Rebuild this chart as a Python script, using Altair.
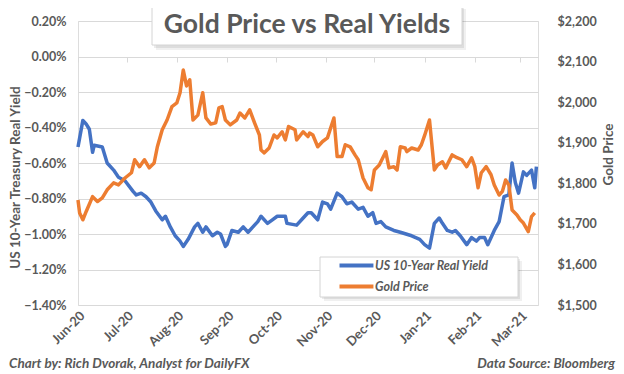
import altair as alt
import pandas as pd

# ---------------- data ----------------
blue_dates = [
    "2020-06-01", "2020-06-02", "2020-06-04", "2020-06-06", "2020-06-08", "2020-06-10", "2020-06-11",
    "2020-06-16", "2020-06-19", "2020-06-23", "2020-06-26", "2020-06-30", "2020-07-05", "2020-07-07",
    "2020-07-10", "2020-07-13", "2020-07-16", "2020-07-19", "2020-07-23", "2020-07-25", "2020-07-28",
    "2020-07-31", "2020-08-03", "2020-08-05", "2020-08-08", "2020-08-12", "2020-08-14", "2020-08-17",
    "2020-08-19", "2020-08-23", "2020-08-26", "2020-08-28", "2020-08-31", "2020-09-01", "2020-09-04",
    "2020-09-08", "2020-09-11", "2020-09-14", "2020-09-17", "2020-09-20", "2020-09-22", "2020-09-26",
    "2020-09-29", "2020-10-02", "2020-10-07", "2020-10-08", "2020-10-14", "2020-10-18", "2020-10-21",
    "2020-10-23", "2020-10-27", "2020-10-30", "2020-11-02", "2020-11-04", "2020-11-08", "2020-11-11",
    "2020-11-14", "2020-11-17", "2020-11-21", "2020-11-24", "2020-11-27", "2020-11-30", "2020-12-02",
    "2020-12-05", "2020-12-08", "2020-12-13", "2020-12-17", "2020-12-24", "2020-12-29", "2021-01-01",
    "2021-01-04", "2021-01-07", "2021-01-10", "2021-01-12", "2021-01-15", "2021-01-18", "2021-01-20",
    "2021-01-23", "2021-01-27", "2021-01-30", "2021-02-02", "2021-02-04", "2021-02-07", "2021-02-09",
    "2021-02-13", "2021-02-16", "2021-02-19", "2021-02-22", "2021-02-24", "2021-02-26", "2021-02-28",
    "2021-03-03", "2021-03-05", "2021-03-08", "2021-03-10", "2021-03-11",
]
blue_vals = [
    -0.51, -0.46, -0.36, -0.38, -0.41, -0.54, -0.50,
    -0.51, -0.60, -0.64, -0.68, -0.70, -0.76, -0.78,
    -0.77, -0.79, -0.82, -0.87, -0.92, -0.90, -0.96,
    -1.01, -1.04, -1.07, -1.03, -0.96, -0.94, -0.99,
    -0.96, -1.01, -0.99, -1.00, -1.07, -1.06, -0.98,
    -0.99, -0.96, -0.99, -0.96, -0.93, -0.90, -0.94,
    -0.92, -0.90, -0.90, -0.94, -0.95, -0.91, -0.88,
    -0.88, -0.92, -0.82, -0.83, -0.86, -0.77, -0.79,
    -0.83, -0.82, -0.86, -0.85, -0.90, -0.88, -0.94,
    -0.93, -0.96, -0.98, -0.99, -1.01, -1.03, -1.06,
    -1.08, -0.94, -0.91, -0.94, -0.98, -0.99, -0.98,
    -1.01, -1.06, -1.02, -1.04, -1.02, -1.02, -1.06,
    -0.98, -0.93, -0.79, -0.78, -0.60, -0.71, -0.77,
    -0.65, -0.67, -0.64, -0.74, -0.62,
]

gold_dates = [
    "2020-06-01", "2020-06-02", "2020-06-04", "2020-06-06", "2020-06-10", "2020-06-13", "2020-06-16",
    "2020-06-19", "2020-06-23", "2020-06-26", "2020-06-30", "2020-07-04", "2020-07-06", "2020-07-09",
    "2020-07-12", "2020-07-15", "2020-07-18", "2020-07-20", "2020-07-23", "2020-07-26", "2020-07-29",
    "2020-08-01", "2020-08-03", "2020-08-05", "2020-08-07", "2020-08-09", "2020-08-11", "2020-08-14",
    "2020-08-17", "2020-08-19", "2020-08-22", "2020-08-25", "2020-08-27", "2020-08-29", "2020-08-31",
    "2020-09-03", "2020-09-07", "2020-09-09", "2020-09-12", "2020-09-15", "2020-09-18", "2020-09-21",
    "2020-09-22", "2020-09-24", "2020-09-27", "2020-09-30", "2020-10-02", "2020-10-05", "2020-10-07",
    "2020-10-09", "2020-10-13", "2020-10-14", "2020-10-18", "2020-10-21", "2020-10-22", "2020-10-24",
    "2020-10-27", "2020-10-30", "2020-11-02", "2020-11-06", "2020-11-08", "2020-11-11", "2020-11-13",
    "2020-11-16", "2020-11-19", "2020-11-21", "2020-11-24", "2020-11-27", "2020-11-29", "2020-12-01",
    "2020-12-04", "2020-12-08", "2020-12-10", "2020-12-13", "2020-12-15", "2020-12-17", "2020-12-20",
    "2020-12-21", "2020-12-24", "2020-12-28", "2020-12-30", "2021-01-01", "2021-01-04", "2021-01-07",
    "2021-01-09", "2021-01-12", "2021-01-14", "2021-01-18", "2021-01-21", "2021-01-24", "2021-01-27",
    "2021-01-30", "2021-02-01", "2021-02-03", "2021-02-05", "2021-02-08", "2021-02-11", "2021-02-13",
    "2021-02-16", "2021-02-18", "2021-02-20", "2021-02-22", "2021-02-24", "2021-02-27", "2021-03-01",
    "2021-03-03", "2021-03-06", "2021-03-08", "2021-03-10",
]
gold_vals = [
    1759, 1727, 1710, 1730, 1767, 1755, 1764,
    1784, 1801, 1796, 1813, 1826, 1858, 1841,
    1858, 1838, 1850, 1890, 1932, 1956, 1989,
    1998, 2023, 2079, 2040, 2055, 1956, 1968,
    2023, 1961, 1946, 1949, 1986, 1989, 1956,
    1944, 1956, 1973, 1961, 1981, 1949, 1919,
    1882, 1875, 1887, 1919, 1912, 1927, 1907,
    1940, 1932, 1907, 1927, 1915, 1924, 1919,
    1890, 1903, 1912, 1961, 1866, 1866, 1895,
    1890, 1870, 1858, 1813, 1789, 1784, 1833,
    1845, 1878, 1838, 1841, 1833, 1890, 1887,
    1878, 1887, 1882, 1895, 1918, 1956, 1833,
    1845, 1853, 1838, 1870, 1863, 1858, 1841,
    1863, 1841, 1789, 1826, 1841, 1821, 1796,
    1771, 1780, 1808, 1796, 1734, 1722, 1710,
    1702, 1681, 1718, 1727,
]

series_names = ["US 10-Year Real Yield", "Gold Price"]
series_colors = ["#4472C4", "#ED7D31"]

month_ticks = [(2020, 6), (2020, 7), (2020, 8), (2020, 9), (2020, 10), (2020, 11),
               (2020, 12), (2021, 1), (2021, 2), (2021, 3)]
yield_ticks = [-1.4, -1.2, -1.0, -0.8, -0.6, -0.4, -0.2, 0.0, 0.2]
gold_ticks = [1500, 1600, 1700, 1800, 1900, 2000, 2100, 2200]

title_text = "Gold Price vs Real Yields"
left_title = "US 10-Year Treasury Real Yield"
right_title = "Gold Price"
footer_left = "Chart by: Rich Dvorak, Analyst for DailyFX"
footer_right = "Data Source: Bloomberg"

# ---------------- build ----------------
FONT = "Lato"
GREY = "#595959"
GRID = "#d9d9d9"

blue_df = pd.DataFrame({"date": pd.to_datetime(blue_dates), "value": blue_vals,
                        "series": series_names[0]})
gold_df = pd.DataFrame({"date": pd.to_datetime(gold_dates), "value": gold_vals,
                        "series": series_names[1]})

x_domain = [alt.DateTime(year=2020, month=6, date=1), alt.DateTime(year=2021, month=3, date=12)]
x_values = [alt.DateTime(year=y, month=m, date=1) for y, m in month_ticks]

color = alt.Color(
    "series:N",
    scale=alt.Scale(domain=series_names, range=series_colors),
    legend=alt.Legend(
        orient="none", legendX=255, legendY=238, title=None,
        symbolType="M0,0H8", symbolStrokeWidth=4, symbolSize=72,
        labelFont=FONT, labelFontSize=12.5, labelFontStyle="italic", labelFontWeight="bold",
        labelColor=GREY, labelOffset=29, padding=0, rowPadding=4,
    ),
)

blue = alt.Chart(blue_df).mark_line(strokeWidth=3.5, strokeJoin="round").encode(
    x=alt.X("date:T", scale=alt.Scale(domain=x_domain),
            axis=alt.Axis(values=x_values, format="%b-%y", labelAngle=-45, title=None,
                          ticks=False, domain=False, grid=False, labelFont=FONT,
                          labelFontSize=13, labelFontWeight="bold", labelColor=GREY,
                          labelPadding=4)),
    y=alt.Y("value:Q", scale=alt.Scale(domain=[-1.4, 0.2], nice=False, zero=False),
            axis=alt.Axis(values=yield_ticks, labelExpr="format(datum.value, '.2f') + '%'",
                          title=left_title, titleFont=FONT, titleFontSize=13.5,
                          titleFontWeight="bold", titleColor=GREY, titleAngle=270,
                          titleX=-56, titleY=156, titleBaseline="bottom",
                          labelFont=FONT, labelFontSize=12.5, labelFontWeight="bold",
                          labelColor=GREY, labelPadding=12, ticks=False, domain=False,
                          grid=True, gridColor=GRID, gridWidth=1)),
    color=color,
)

gold = alt.Chart(gold_df).mark_line(strokeWidth=3.5, strokeJoin="round").encode(
    x=alt.X("date:T", scale=alt.Scale(domain=x_domain),
            axis=alt.Axis(values=x_values, orient="bottom", offset=-248, labels=False,
                          title=None, ticks=True, tickSize=5, tickColor=GRID,
                          domain=True, domainColor=GRID, grid=False)),
    y=alt.Y("value:Q", scale=alt.Scale(domain=[1500, 2200], nice=False, zero=False),
            axis=alt.Axis(values=gold_ticks, format="$,.0f", orient="right",
                          title=right_title, titleFont=FONT, titleFontSize=13.5,
                          titleFontWeight="bold", titleColor=GREY, titleAngle=270,
                          titleX=77, titleY=133, titleBaseline="bottom",
                          labelFont=FONT, labelFontSize=12.5, labelFontWeight="bold",
                          labelColor=GREY, labelPadding=19, ticks=False, domain=False,
                          grid=False)),
    color=color,
)

one = pd.DataFrame({"t": [0]})


def box(x1, x2, y1, y2, **kw):
    return alt.Chart(one).mark_rect(**kw).encode(
        x=alt.value(x1), x2=alt.value(x2), y=alt.value(y1), y2=alt.value(y2))


title_shadow1 = box(78, 388, -12, 29, fill="#000000", opacity=0.06)
title_shadow2 = box(76, 386, -14, 27, fill="#000000", opacity=0.08)
title_box = box(74, 384, -17, 24, fill="white", stroke="#d4d4d4", strokeWidth=1)
title_mark = alt.Chart(one).mark_text(font=FONT, fontSize=26.5, fontWeight="bold", color=GREY,
                                      baseline="middle", align="center").encode(
    x=alt.value(229), y=alt.value(4), text=alt.value(title_text))

legend_shadow1 = box(246, 444, 240, 280, fill="#000000", opacity=0.06)
legend_shadow2 = box(244, 442, 238, 278, fill="#000000", opacity=0.08)
legend_box = box(242, 440, 236, 276, fill="white", stroke="#d4d4d4", strokeWidth=1)

foot_l = alt.Chart(one).mark_text(font=FONT, fontSize=13.5, fontWeight="bold", fontStyle="italic",
                                  color=GREY, align="left", baseline="middle").encode(
    x=alt.value(-69), y=alt.value(343), text=alt.value(footer_left))
foot_r = alt.Chart(one).mark_text(font=FONT, fontSize=13.5, fontWeight="bold", fontStyle="italic",
                                  color=GREY, align="right", baseline="middle").encode(
    x=alt.value(537), y=alt.value(343), text=alt.value(footer_right))

chart = alt.layer(
    blue, gold, title_shadow1, title_shadow2, title_box, title_mark,
    legend_shadow1, legend_shadow2, legend_box, foot_l, foot_r
).resolve_scale(
    x="independent", y="independent", color="shared"
).properties(
    width=460, height=284,
    autosize=alt.AutoSizeParams(type="none"),
    padding={"left": 70, "top": 13, "right": 78, "bottom": 66},
).configure_view(stroke=None).configure(background="white")

chart.save("out.html", embed_options={"renderer": "svg", "actions": False})
